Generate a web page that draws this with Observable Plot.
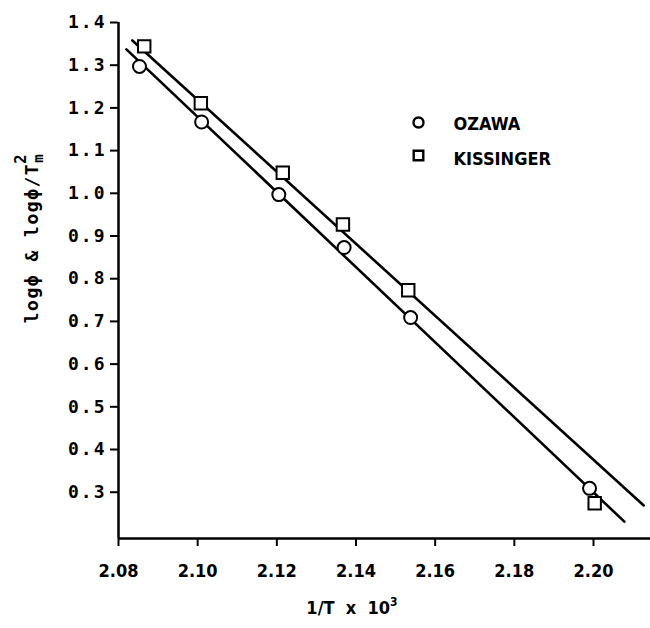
<!DOCTYPE html>
<html>
<head>
<meta charset="utf-8">
<script src="https://cdn.jsdelivr.net/npm/d3@7"></script>
<script src="https://cdn.jsdelivr.net/npm/@observablehq/plot@0.6"></script>
<style>
  html, body { margin: 0; padding: 0; background: #fff; }
  #chart { width: 650px; height: 628px; }
</style>
</head>
<body>
<div id="chart"></div>
<script>
// ---- data ----
const ozawaX = [2.0853, 2.1010, 2.1205, 2.1370, 2.1538, 2.1990];
const ozawaY = [1.297, 1.167, 0.997, 0.873, 0.709, 0.309];
const kissX  = [2.0865, 2.1008, 2.1215, 2.1367, 2.1532, 2.2003];
const kissY  = [1.344, 1.211, 1.048, 0.927, 0.773, 0.274];
// fitted lines as drawn (endpoints)
const ozawaLineX = [2.0820, 2.2078];
const ozawaLineY = [1.337, 0.231];
const kissLineX  = [2.0835, 2.2127];
const kissLineY  = [1.358, 0.269];
const xTicks = [2.08, 2.10, 2.12, 2.14, 2.16, 2.18, 2.20];
const yTicks = [0.3, 0.4, 0.5, 0.6, 0.7, 0.8, 0.9, 1.0, 1.1, 1.2, 1.3, 1.4];
const xDomain = [2.08, 2.2144];
const yDomain = [0.1916, 1.4];
const seriesNames = ["OZAWA", "KISSINGER"];

const ozawa = ozawaX.map((x, i) => ({x, y: ozawaY[i]}));
const kiss = kissX.map((x, i) => ({x, y: kissY[i]}));
const ozawaLine = ozawaLineX.map((x, i) => ({x, y: ozawaLineY[i]}));
const kissLine = kissLineX.map((x, i) => ({x, y: kissLineY[i]}));

const tickFont = "'DejaVu Sans Mono', monospace";
const labelFont = "'Liberation Sans Narrow', 'DejaVu Sans Condensed', sans-serif";

const plot = Plot.plot({
  width: 650,
  height: 628,
  marginLeft: 118,
  marginRight: 0,
  marginTop: 22,
  marginBottom: 90,
  style: {background: "#fff", color: "#000", fontFamily: labelFont},
  x: {domain: xDomain, ticks: xTicks, label: null},
  y: {domain: yDomain, ticks: yTicks, label: null},
  marks: [
    Plot.axisX({ticks: xTicks, tickFormat: d3.format(".2f"), tickSize: 8, tickPadding: 18,
      fontSize: 18, fontWeight: "bold", fontFamily: labelFont, strokeWidth: 2, label: null}),
    Plot.axisY({ticks: yTicks, tickFormat: d3.format(".1f"), tickSize: 8, tickPadding: 4,
      fontSize: 18, fontWeight: "bold", fontFamily: tickFont, strokeWidth: 2, label: null}),
    Plot.ruleX([xDomain[0]], {strokeWidth: 2.5}),
    Plot.ruleY([yDomain[0]], {strokeWidth: 2.5}),
    Plot.line(ozawaLine, {x: "x", y: "y", strokeWidth: 2.6}),
    Plot.line(kissLine, {x: "x", y: "y", strokeWidth: 2.6}),
    Plot.dot(ozawa, {x: "x", y: "y", symbol: "circle", r: 6.5, fill: "#fff", stroke: "#000", strokeWidth: 2}),
    Plot.dot(kiss, {x: "x", y: "y", symbol: "square", r: 7, fill: "#fff", stroke: "#000", strokeWidth: 2}),
    // legend
    Plot.dot([seriesNames[0]], {frameAnchor: "top-left", dx: 300, dy: 100, symbol: "circle", r: 5, fill: "#fff", stroke: "#000", strokeWidth: 2.4}),
    Plot.dot([seriesNames[1]], {frameAnchor: "top-left", dx: 300, dy: 133, symbol: "square", r: 5.4, fill: "#fff", stroke: "#000", strokeWidth: 2.4}),
    Plot.text([seriesNames[0]], {text: d => d, frameAnchor: "top-left", dx: 335, dy: 95, textAnchor: "start",
      fontSize: 18, fontWeight: "bold", fontFamily: labelFont, fill: "#000"}),
    Plot.text([seriesNames[1]], {text: d => d, frameAnchor: "top-left", dx: 335, dy: 130, textAnchor: "start",
      fontSize: 18, fontWeight: "bold", fontFamily: labelFont, fill: "#000"})
  ]
});

document.getElementById("chart").appendChild(plot);

const svg = d3.select(plot);
svg.selectAll("text").attr("fill", "#000");
// letter spacing on y tick labels like the reference
svg.selectAll("[aria-label='y-axis tick label'] text").style("letter-spacing", "2px");

// y axis title with subscript / superscript
const yt = svg.append("text")
  .attr("transform", "translate(38,238) rotate(-90)")
  .attr("text-anchor", "middle")
  .attr("font-family", tickFont)
  .attr("font-weight", "bold")
  .attr("font-size", 18)
  .attr("fill", "#000")
  .style("letter-spacing", "1.5px");
yt.append("tspan").text("logϕ & logϕ/T");
yt.append("tspan").attr("font-size", 14).attr("dy", 5).text("m");
yt.append("tspan").attr("font-size", 16).attr("dx", -11).attr("dy", -17).text("2");

// x axis title with superscript
const xt = svg.append("text")
  .attr("x", 352)
  .attr("y", 614)
  .attr("text-anchor", "middle")
  .attr("font-family", labelFont)
  .attr("font-weight", "bold")
  .attr("font-size", 18)
  .attr("fill", "#000")
  .attr("xml:space", "preserve")
  .style("white-space", "pre");
xt.append("tspan").text("1/T  x  10");
xt.append("tspan").attr("font-size", 12).attr("dy", -8).text("3");
</script>
</body>
</html>
